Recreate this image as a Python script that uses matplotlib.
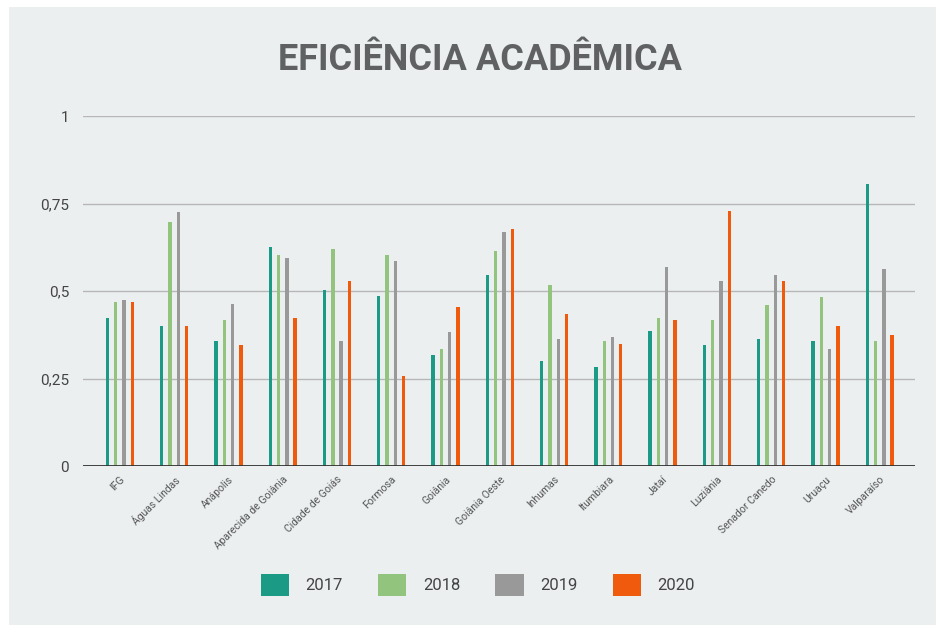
import matplotlib
matplotlib.use("Agg")
import matplotlib.pyplot as plt
from matplotlib.patches import Rectangle, Patch
import numpy as np

plt.rcParams['font.family'] = ['Roboto', 'DejaVu Sans']

campi = ["IFG", "Águas Lindas", "Anápolis", "Aparecida de Goiânia", "Cidade de Goiás",
         "Formosa", "Goiânia", "Goiânia Oeste", "Inhumas", "Itumbiara", "Jataí",
         "Luziânia", "Senador Canedo", "Uruaçu", "Valparaíso"]
v2017 = [0.423, 0.399, 0.358, 0.627, 0.504, 0.487, 0.316, 0.546, 0.299, 0.282, 0.387, 0.347, 0.364, 0.358, 0.805]
v2018 = [0.468, 0.698, 0.416, 0.603, 0.620, 0.604, 0.335, 0.613, 0.518, 0.358, 0.424, 0.417, 0.460, 0.482, 0.358]
v2019 = [0.475, 0.727, 0.464, 0.593, 0.358, 0.587, 0.382, 0.670, 0.364, 0.370, 0.569, 0.528, 0.546, 0.335, 0.563]
v2020 = [0.468, 0.399, 0.347, 0.423, 0.528, 0.257, 0.453, 0.676, 0.435, 0.349, 0.417, 0.728, 0.528, 0.400, 0.375]
anos = ["2017", "2018", "2019", "2020"]
cores = ["#1b9a85", "#93c47d", "#999999", "#f05a0d"]
yticks = [0, 0.25, 0.5, 0.75, 1]
ylabels = ["0", "0,25", "0,5", "0,75", "1"]

W, H = 938, 625
fig = plt.figure(figsize=(W / 100, H / 100), dpi=100)
fig.patch.set_facecolor("white")
bg = Rectangle((9 / W, 0), (936 - 9) / W, (625 - 7) / H, transform=fig.transFigure,
               facecolor="#ebeff0", edgecolor="none", zorder=-10)
fig.patches.append(bg)

ax = fig.add_axes([83 / W, (H - 466) / H, (915 - 83) / W, (466 - 116) / H])
ax.set_zorder(5)
ax.set_facecolor("none")
x = np.arange(len(campi))
series = [v2017, v2018, v2019, v2020]
offs = [-1.5, -0.5, 0.5, 1.5]
for s, c, o, lab in zip(series, cores, offs, anos):
    ax.bar(x + o * 0.153, s, width=0.062, color=c, label=lab, zorder=3)

ax.set_ylim(0, 1)
ax.set_xlim(-0.68, 14.65)
ax.set_yticks(yticks)
ax.set_yticklabels(ylabels, fontsize=11, color="#444444")
ax.tick_params(axis="y", length=0, pad=10)
ax.grid(axis="y", color="#b7b7b7", linewidth=1, zorder=1)
ax.set_axisbelow(True)
for sp in ax.spines.values():
    sp.set_visible(False)
ax.axhline(0, color="#333333", linewidth=1.3, zorder=4)
ax.set_xticks(x)
ax.set_xticklabels(campi, rotation=45, ha="right", rotation_mode="anchor", fontsize=7.5, color="#555555")
ax.tick_params(axis="x", length=0, pad=6)

fig.text(480 / W, 1 - 60 / H, "EFICIÊNCIA ACADÊMICA", ha="center", va="center",
         fontsize=26, fontweight="bold", color="#5f6163")

handles = [Patch(facecolor=c, edgecolor="none") for c in cores]
fig.legend(handles, anos, loc="center", bbox_to_anchor=(478 / W, 1 - 585 / H), ncol=4,
           frameon=False, fontsize=12, handlelength=1.7, handleheight=1.7,
           columnspacing=2.1, handletextpad=1.0, labelcolor="#444444")

fig.savefig("out.png", dpi=100, facecolor=fig.get_facecolor())
